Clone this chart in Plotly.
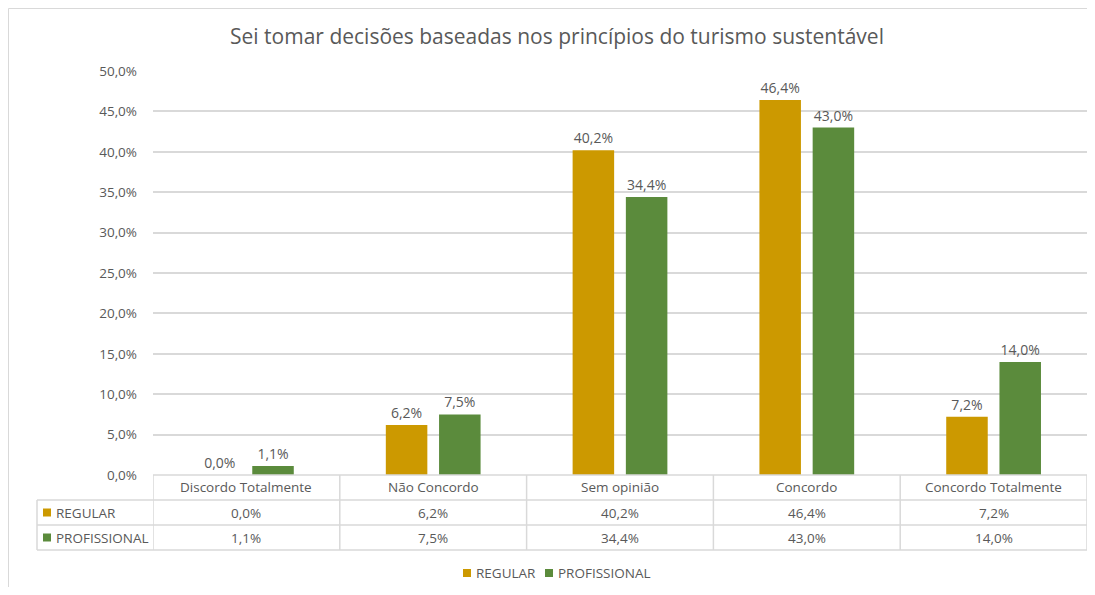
import plotly.graph_objects as go

# data
categories = ['Discordo Totalmente', 'Não Concordo', 'Sem opinião', 'Concordo', 'Concordo Totalmente']
regular = [0.0, 6.2, 40.2, 46.4, 7.2]
profissional = [1.1, 7.5, 34.4, 43.0, 14.0]
series_names = ['REGULAR', 'PROFISSIONAL']
y_ticks = [0, 5, 10, 15, 20, 25, 30, 35, 40, 45, 50]
y_ticktext = [f'{v:.1f}%'.replace('.', ',') for v in y_ticks]

colors = {
    'gold': '#CC9900',
    'green': '#5B8B3C',
    'grid': '#D9D9D9',
    'text': '#595959',
}
FONT = 'Open Sans'

# the page body has an 8px margin, so the figure is shrunk by that much
OFF = 8
W, H = 1095 - 2 * OFF, 595 - 2 * OFF
L, R, T, B = 153 - OFF, 0, 71 - OFF, 595 - 475 - OFF
pw, ph = W - L - R, H - T - B


def px_x(p):
    # page pixel (reference picture) -> paper x
    return (p - OFF - L) / pw


def px_y(p):
    # page pixel (reference picture) -> paper y
    return (H - B - (p - OFF)) / ph


fig = go.Figure()

for name, vals, col in [(series_names[0], regular, colors['gold']),
                        (series_names[1], profissional, colors['green'])]:
    fig.add_trace(go.Bar(
        x=categories, y=vals, name=name,
        marker=dict(color=col, line=dict(width=0)),
        texttemplate='%{y:.1f}%', textposition='outside', cliponaxis=False,
        textfont=dict(family=FONT, size=14, color=colors['text']),
        showlegend=False,
    ))

shapes = []
annotations = []
tfont = dict(family=FONT, size=13.5, color=colors['text'])

# outer chart border (top + left)
shapes.append(dict(type='line', xref='paper', yref='paper',
                   x0=px_x(OFF + 0.5), x1=px_x(1100), y0=px_y(OFF + 0.5), y1=px_y(OFF + 0.5),
                   line=dict(color=colors['grid'], width=1)))
shapes.append(dict(type='line', xref='paper', yref='paper',
                   x0=px_x(OFF + 0.5), x1=px_x(OFF + 0.5), y0=px_y(OFF + 0.5), y1=px_y(600),
                   line=dict(color=colors['grid'], width=1)))

# data table below the axis
row_lines = [475, 500, 525, 550]
for i, yy in enumerate(row_lines):
    x0 = 0 if i == 0 else px_x(37)
    shapes.append(dict(type='line', xref='paper', yref='paper',
                       x0=x0, x1=1, y0=px_y(yy), y1=px_y(yy),
                       line=dict(color=colors['grid'], width=1.5)))
for k in range(len(categories) + 1):
    shapes.append(dict(type='line', xref='x', yref='paper',
                       x0=k - 0.5, x1=k - 0.5, y0=px_y(475), y1=px_y(550),
                       line=dict(color=colors['grid'], width=1.5)))
shapes.append(dict(type='line', xref='paper', yref='paper',
                   x0=px_x(37), x1=px_x(37), y0=px_y(500), y1=px_y(550),
                   line=dict(color=colors['grid'], width=1.5)))

row_y = [487.5, 512.5, 537.5]
for c in categories:
    annotations.append(dict(x=c, y=px_y(row_y[0]), xref='x', yref='paper',
                            xanchor='center', yanchor='middle',
                            text=c, showarrow=False, font=tfont))
for vals, yy in [(regular, row_y[1]), (profissional, row_y[2])]:
    for c, v in zip(categories, vals):
        annotations.append(dict(x=c, y=px_y(yy), xref='x', yref='paper',
                                xanchor='center', yanchor='middle',
                                text=f'{v:.1f}%'.replace('.', ','), showarrow=False,
                                font=tfont))

# series keys in the table
for name, col, yy in [(series_names[0], colors['gold'], row_y[1]),
                      (series_names[1], colors['green'], row_y[2])]:
    shapes.append(dict(type='rect', xref='paper', yref='paper',
                       x0=px_x(43), x1=px_x(51), y0=px_y(yy + 4), y1=px_y(yy - 4),
                       fillcolor=col, line=dict(width=0)))
    annotations.append(dict(x=px_x(54), y=px_y(yy), xref='paper', yref='paper',
                            xanchor='left', yanchor='middle', text=name,
                            showarrow=False, font=tfont))

# legend under the table (drawn by hand, Excel style)
legend_items = [(series_names[0], colors['gold'], 463), (series_names[1], colors['green'], 545)]
for name, col, xx in legend_items:
    shapes.append(dict(type='rect', xref='paper', yref='paper',
                       x0=px_x(xx), x1=px_x(xx + 8), y0=px_y(577), y1=px_y(569),
                       fillcolor=col, line=dict(width=0)))
    annotations.append(dict(x=px_x(xx + 11), y=px_y(573), xref='paper', yref='paper',
                            xanchor='left', yanchor='middle', text=name,
                            showarrow=False, font=tfont))

fig.update_layout(
    width=W, height=H,
    margin=dict(l=L, r=R, t=T, b=B, autoexpand=False),
    paper_bgcolor='white', plot_bgcolor='white',
    separators=',.',
    barmode='group', bargap=0.43, bargroupgap=0.22,
    title=dict(text='Sei tomar decisões baseadas nos princípios do turismo sustentável',
               xref='paper', x=px_x(557), xanchor='center',
               yref='container', y=1 - (37 - OFF) / H, yanchor='middle',
               font=dict(family=FONT, size=21, color=colors['text'])),
    font=dict(family=FONT, size=13, color=colors['text']),
    xaxis=dict(showticklabels=False, showline=False, showgrid=False, zeroline=False,
               range=[-0.5, len(categories) - 0.5]),
    yaxis=dict(range=[0, 50], tickvals=y_ticks, ticktext=y_ticktext,
               showgrid=True, gridcolor=colors['grid'], gridwidth=1.5,
               zeroline=False, showline=False, ticks='', ticklabelstandoff=15,
               tickfont=dict(family=FONT, size=13.5, color=colors['text'])),
    showlegend=False,
    shapes=shapes,
    annotations=annotations,
)

fig.write_html('out.html')
